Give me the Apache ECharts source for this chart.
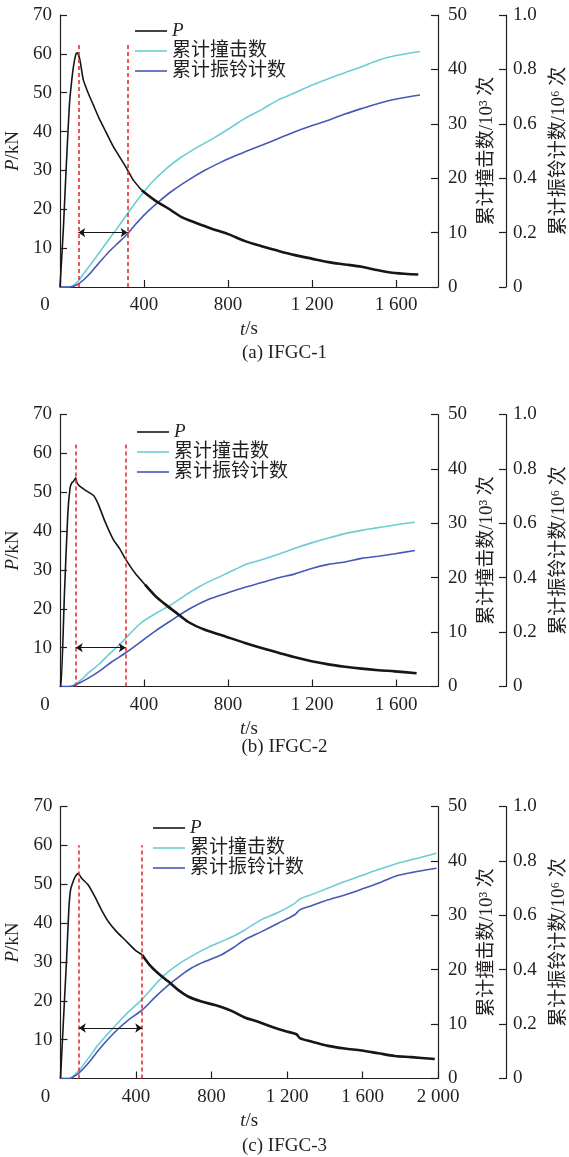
<!DOCTYPE html>
<html>
<head>
<meta charset="utf-8">
<script src="https://cdn.jsdelivr.net/npm/echarts@6/dist/echarts.min.js"></script>
<style>
  html, body { margin: 0; padding: 0; background: #fff; }
  #chart { width: 569px; height: 1157px; }
</style>
</head>
<body>
<div id="chart"></div>
<script>
// ---- measured data: [t (s), value] ----
// load P (kN)
const loadA = [[0,0],[3,0],[16,15],[28,29],[38,40],[45,47],[51,50.7],[64,56.7],[76,60],[83,60.3],[95,58.4],[111,53.3],[135,49.8],[159,46.8],[183,43.8],[214,40.4],[254,36.1],[294,32.6],[322,30.1],[349,27.5],[389,24.9],[452,22.3],[516,20.2],[579,18.0],[643,16.6],[722,15.0],[801,13.6],[881,11.8],[960,10.5],[1040,9.3],[1119,8.2],[1198,7.3],[1278,6.4],[1357,5.8],[1436,5.2],[1516,4.3],[1595,3.6],[1706,3.2]];
const loadB = [[0,0],[5,0],[21,23.7],[37,44.3],[48,51.1],[56,52.4],[63,52.7],[75,53.7],[80,52.5],[95,51.5],[127,50.3],[159,49.2],[183,46.8],[214,42.5],[254,37.8],[286,35.3],[313,32.7],[357,29.2],[405,26.2],[452,23.4],[500,21.2],[548,19.2],[611,16.6],[690,14.6],[770,13.2],[881,11.2],[960,9.9],[1040,8.7],[1119,7.5],[1198,6.5],[1278,5.7],[1357,5.1],[1436,4.6],[1516,4.2],[1595,3.9],[1698,3.4]];
const loadC = [[0,0],[2,0],[23,22],[32,30.5],[44,43.4],[53,48.5],[67,50.7],[79,52.0],[94,52.8],[111,51.6],[147,49.8],[182,46.8],[217,43.4],[253,40.4],[297,37.8],[341,35.7],[394,33.1],[433,31.8],[473,29.2],[517,27.1],[570,25.0],[623,22.8],[676,21.1],[747,19.8],[818,18.9],[906,17.4],[976,15.7],[1047,14.6],[1118,13.3],[1189,12.2],[1250,11.4],[1268,10.4],[1330,9.5],[1418,8.4],[1506,7.7],[1595,7.2],[1683,6.5],[1771,5.8],[1859,5.5],[1983,5.0]];

// cumulative hits (10^3)
const hitsA = [[0,0],[40,0],[63,0.3],[87,1.1],[119,2.8],[151,4.4],[183,6.1],[230,8.6],[278,11.1],[322,13.5],[357,15.4],[405,17.8],[452,19.8],[516,22.1],[579,23.9],[659,25.8],[738,27.5],[817,29.4],[881,31.0],[960,32.6],[1040,34.4],[1119,35.7],[1198,37.1],[1278,38.3],[1357,39.4],[1436,40.5],[1516,41.7],[1595,42.5],[1714,43.3]];
const hitsB = [[0,0],[40,0],[63,0.2],[103,1.3],[135,2.5],[183,4.0],[230,5.8],[278,7.5],[313,8.9],[348,10.3],[389,11.8],[459,13.5],[524,14.9],[601,16.9],[660,18.3],[727,19.6],[801,20.9],[881,22.4],[960,23.3],[1040,24.3],[1119,25.4],[1198,26.4],[1278,27.3],[1357,28.1],[1436,28.7],[1516,29.2],[1595,29.7],[1690,30.2]];
const hitsC = [[0,0],[45,0],[97,1.5],[147,3.7],[200,6.2],[253,8.3],[306,10.3],[359,12.2],[433,14.6],[490,16.8],[553,19.1],[620,20.9],[690,22.4],[782,24.1],[860,25.3],[924,26.3],[976,27.3],[1065,29.2],[1153,30.5],[1241,32.2],[1268,33.0],[1330,33.8],[1418,35.0],[1506,36.2],[1595,37.3],[1683,38.4],[1771,39.4],[1859,40.2],[1992,41.4]];

// cumulative ring-down counts (10^6)
const ringA = [[0,0],[45,0],[63,0.002],[95,0.015],[135,0.043],[183,0.086],[230,0.127],[278,0.163],[322,0.196],[357,0.228],[405,0.268],[468,0.312],[532,0.352],[611,0.393],[690,0.429],[770,0.46],[849,0.487],[881,0.497],[960,0.521],[1040,0.546],[1119,0.571],[1198,0.593],[1278,0.613],[1357,0.636],[1436,0.656],[1516,0.675],[1595,0.69],[1714,0.706]];
const ringB = [[0,0],[45,0],[63,0.002],[103,0.017],[151,0.038],[198,0.062],[246,0.09],[313,0.124],[389,0.167],[452,0.203],[524,0.24],[611,0.283],[706,0.32],[801,0.345],[881,0.365],[960,0.382],[1040,0.40],[1119,0.414],[1198,0.434],[1278,0.449],[1357,0.458],[1436,0.471],[1516,0.479],[1595,0.488],[1690,0.5]];
const ringC = [[0,0],[50,0],[58,0.002],[97,0.02],[147,0.056],[200,0.103],[253,0.145],[306,0.183],[359,0.215],[433,0.252],[500,0.298],[570,0.342],[641,0.381],[694,0.406],[765,0.43],[853,0.455],[924,0.485],[976,0.51],[1065,0.54],[1153,0.571],[1241,0.602],[1268,0.62],[1330,0.635],[1418,0.657],[1506,0.675],[1595,0.696],[1683,0.718],[1771,0.743],[1859,0.757],[1992,0.773]];

// marker lines: peak time, end of interval, top of guide (kN), arrow level (kN)
const peakT = [87, 75, 97];
const endT = [322, 313, 433];
const guideTop = [63, 63, 60];
const arrowY = [14, 10, 13];

// axes
const tMax = [1800, 1800, 2000];
const tStep = 400;
const loadMax = 70, loadStep = 10;
const hitsMax = 50, hitsStep = 10;
const ringMax = 1.0, ringStep = 0.2;

const captions = ['(a) IFGC-1', '(b) IFGC-2', '(c) IFGC-3'];
const legendNames = ['P', '累计撞击数', '累计振铃计数'];
const hitsTitle = '累计撞击数/10³ 次';
const ringTitle = '累计振铃计数/10⁶ 次';

// ---- layout & styles ----
const FONT = '"Liberation Serif", "Noto Sans CJK SC", serif';
const INK = '#231f20';
const C_LOAD = '#161616', C_HITS = '#6ccdd4', C_RING = '#4659b4', C_GUIDE = '#ec2d2d';
const gridTop = [15, 414.5, 806.5];
const gridLeft = [60, 60, 60.5];
const gridRight = 438;
const gridH = 272;
const legendPos = [[135, 21], [137, 422], [153, 818]];
const captionTop = [344, 738, 1137];
const loadSplitT = 450;   // the load trace gets noisier (drawn heavier) past this time

const panels = [
  { load: loadA, hits: hitsA, ring: ringA },
  { load: loadB, hits: hitsB, ring: ringB },
  { load: loadC, hits: hitsC, ring: ringC }
];

const axisLine = { show: true, lineStyle: { color: INK, width: 1.2 } };
const axisTick = { show: true, inside: true, length: 7, lineStyle: { color: INK, width: 1.2 } };
const baseLabel = { color: INK, fontFamily: FONT, fontSize: 19 };

function fmtT(v) {
  if (v === 0) return '{o|0}';
  const s = String(v);
  return v >= 1000 ? s.slice(0, s.length - 3) + ' ' + s.slice(-3) : s;
}

const grid = [], xAxis = [], yAxis = [], series = [], legend = [], title = [];

panels.forEach((p, i) => {
  grid.push({ left: gridLeft[i], top: gridTop[i], width: gridRight - gridLeft[i], height: gridH,
    containLabel: false, outerBoundsMode: 'none' });

  xAxis.push({
    type: 'value', gridIndex: i, min: 0, max: tMax[i], interval: tStep,
    axisLine, axisTick, splitLine: { show: false },
    axisLabel: Object.assign({}, baseLabel, {
      margin: 9, formatter: fmtT, showMinLabel: true, showMaxLabel: tMax[i] % tStep === 0,
      hideOverlap: false,
      rich: { o: { fontFamily: FONT, fontSize: 19, color: INK, padding: [0, 30, 0, 0] } }
    }),
    name: '{i|t}/s', nameLocation: 'middle', nameGap: 33,
    nameTextStyle: { color: INK, fontFamily: FONT, fontSize: 19,
      rich: { i: { fontStyle: 'italic', fontFamily: FONT, fontSize: 19, color: INK } } }
  });

  yAxis.push({
    type: 'value', gridIndex: i, position: 'left', min: 0, max: loadMax, interval: loadStep,
    axisLine, axisTick, splitLine: { show: false },
    axisLabel: Object.assign({}, baseLabel, { margin: 8, showMinLabel: false }),
    name: '{i|P}/kN', nameLocation: 'middle', nameGap: 33, nameRotate: 90,
    nameTextStyle: { color: INK, fontFamily: FONT, fontSize: 19,
      rich: { i: { fontStyle: 'italic', fontFamily: FONT, fontSize: 19, color: INK } } }
  });
  yAxis.push({
    type: 'value', gridIndex: i, position: 'right', min: 0, max: hitsMax, interval: hitsStep,
    axisLine, axisTick, splitLine: { show: false },
    axisLabel: Object.assign({}, baseLabel, { margin: 10 }),
    name: hitsTitle, nameLocation: 'middle', nameGap: 40, nameRotate: 90,
    nameTextStyle: { color: INK, fontFamily: FONT, fontSize: 19 }
  });
  yAxis.push({
    type: 'value', gridIndex: i, position: 'right', offset: 68, min: 0, max: ringMax, interval: ringStep,
    axisLine, axisTick, splitLine: { show: false },
    axisLabel: Object.assign({}, baseLabel, { margin: 7,
      formatter: v => (v === 0 ? '0' : v.toFixed(1)) }),
    name: ringTitle, nameLocation: 'middle', nameGap: 44, nameRotate: 90,
    nameTextStyle: { color: INK, fontFamily: FONT, fontSize: 19 }
  });

  const guide = { color: C_GUIDE, width: 1.6, type: [4, 3] };
  // split the load trace into a thin early part and a heavier noisy tail sharing one point
  const cut = p.load.findIndex(d => d[0] > loadSplitT);
  const head = p.load.slice(0, cut);
  const tail = p.load.slice(cut - 1);

  series.push({
    name: 'P', type: 'line', xAxisIndex: i, yAxisIndex: 3 * i, data: head,
    symbol: 'none', showSymbol: false, z: 4, smooth: 0.15,
    lineStyle: { color: C_LOAD, width: 1.6 }, itemStyle: { color: C_LOAD },
    markLine: {
      silent: true, symbol: 'none', symbolSize: 7, label: { show: false },
      emphasis: { disabled: true },
      data: [
        [{ coord: [peakT[i], 0], lineStyle: guide }, { coord: [peakT[i], guideTop[i]] }],
        [{ coord: [endT[i], 0], lineStyle: guide }, { coord: [endT[i], guideTop[i]] }],
        [{ coord: [peakT[i], arrowY[i]], symbol: 'arrow', lineStyle: { color: C_LOAD, width: 1.2, type: 'solid' } },
         { coord: [endT[i], arrowY[i]], symbol: 'arrow' }]
      ]
    }
  });
  series.push({
    name: 'P', type: 'line', xAxisIndex: i, yAxisIndex: 3 * i, data: tail,
    symbol: 'none', showSymbol: false, z: 4, smooth: 0.3,
    lineStyle: { color: C_LOAD, width: 2.6 }, itemStyle: { color: C_LOAD }
  });
  series.push({
    name: '累计撞击数', type: 'line', xAxisIndex: i, yAxisIndex: 3 * i + 1, data: p.hits,
    symbol: 'none', showSymbol: false, z: 3, smooth: 0.3,
    lineStyle: { color: C_HITS, width: 1.6 }, itemStyle: { color: C_HITS }
  });
  series.push({
    name: '累计振铃计数', type: 'line', xAxisIndex: i, yAxisIndex: 3 * i + 2, data: p.ring,
    symbol: 'none', showSymbol: false, z: 3, smooth: 0.3,
    lineStyle: { color: C_RING, width: 1.6 }, itemStyle: { color: C_RING }
  });

  legend.push({
    data: legendNames.map(n => ({ name: n, icon: 'rect' })),
    orient: 'vertical', left: legendPos[i][0], top: legendPos[i][1],
    padding: 0, itemGap: 0, itemWidth: 32, itemHeight: 1.6, selectedMode: false,
    formatter: n => (n === 'P' ? '{i|P}' : n),
    textStyle: { color: INK, fontFamily: FONT, fontSize: 19, lineHeight: 20,
      rich: { i: { fontStyle: 'italic', fontFamily: FONT, fontSize: 19, color: INK, lineHeight: 20 } } }
  });

  title.push({
    text: captions[i], left: 'center', top: captionTop[i], padding: 0,
    textStyle: { color: INK, fontFamily: FONT, fontSize: 19, fontWeight: 'normal' }
  });
});

const chart = echarts.init(document.getElementById('chart'), null, { renderer: 'canvas' });
chart.setOption({
  animation: false,
  backgroundColor: '#fff',
  textStyle: { fontFamily: FONT },
  grid, xAxis, yAxis, series, legend, title
});
</script>
</body>
</html>
